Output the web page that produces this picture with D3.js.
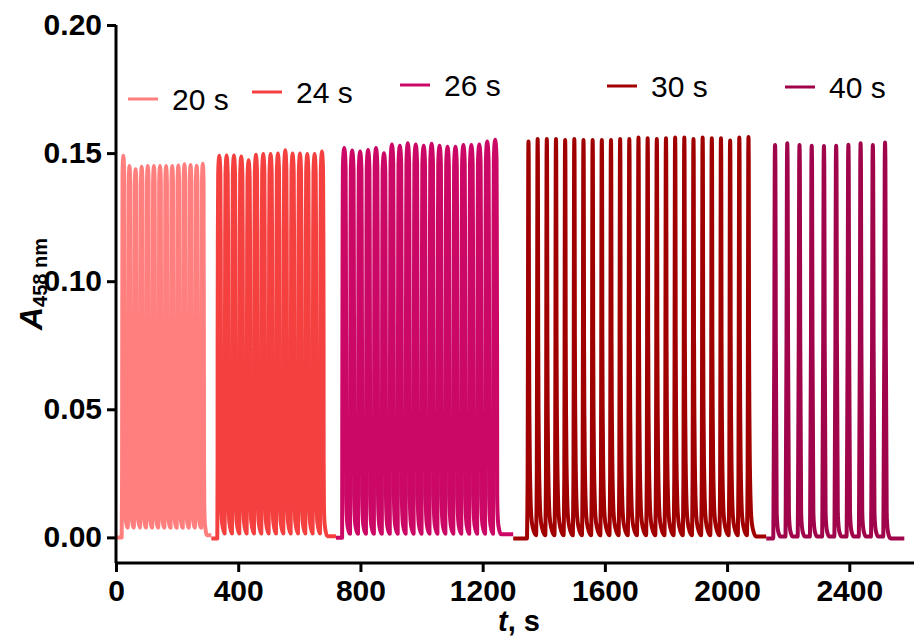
<!DOCTYPE html>
<html><head><meta charset="utf-8">
<script src="https://cdn.jsdelivr.net/npm/d3@7"></script>
<style>body{margin:0;background:#fff}svg{display:block}</style>
</head><body>
<svg id="chart" width="914" height="637"></svg>
<script>
// ---------------- data ----------------
const seriesLabels = ["20 s", "24 s", "26 s", "30 s", "40 s"];
const seriesColors = ["#FF7F7F", "#F54040", "#CC0866", "#A00000", "#A0054C"];
const periods = [20, 24, 26, 30, 40];              // s
const firstPeakTimes = [24, 338, 747, 1350, 2157]; // s
const traceStart = [0, 312, 720, 1300, 2128];      // s
const traceEnd = [312, 720, 1300, 2128, 2580];     // s
const preBaseline = [0.0, -0.0004, -0.0001, -0.0004, -0.0004];
const troughs = [0.0038, 0.0015, 0.0014, 0.0008, 0.0003];
const postBaseline = [0.0008, 0.0004, 0.0012, 0.0003, -0.0004];

const peaks20 = [0.149, 0.145, 0.1437, 0.1447, 0.145, 0.145, 0.145, 0.145, 0.145, 0.1452, 0.1456, 0.1454, 0.1451, 0.1458];
const peaks24 = [0.149, 0.1491, 0.1491, 0.1487, 0.1472, 0.1494, 0.1496, 0.1496, 0.1498, 0.1511, 0.1498, 0.1498, 0.1496, 0.1496, 0.1506];
const peaks26 = [0.152, 0.151, 0.1506, 0.1512, 0.152, 0.1499, 0.1534, 0.1529, 0.1538, 0.1534, 0.1529, 0.1536, 0.1529, 0.1525, 0.1525, 0.1532, 0.1532, 0.1534, 0.1545, 0.1552];
const peaks30 = [0.1545, 0.1555, 0.1555, 0.1555, 0.1551, 0.1555, 0.1551, 0.1551, 0.1551, 0.1551, 0.1555, 0.1555, 0.1561, 0.1558, 0.1555, 0.1558, 0.1561, 0.1561, 0.1555, 0.1561, 0.1558, 0.1558, 0.1549, 0.1561, 0.1563];
const peaks40 = [0.1532, 0.1538, 0.1532, 0.1529, 0.1528, 0.1529, 0.1533, 0.1538, 0.1532, 0.1541];
const peakSets = [peaks20, peaks24, peaks26, peaks30, peaks40];

// cycle shapes: [seconds from peak, fraction of the rise above the trough]
const rise20 = [[-5.5, 0], [-4.6, 0.08], [-4, 0.2], [-3.6, 0.5], [-3, 0.8], [-2.6, 0.95], [-1.2, 0.99], [0, 1]];
const fall20 = [[0, 1], [1.2, 0.99], [2.6, 0.95], [2.9, 0.8], [3.6, 0.5], [4, 0.2], [5, 0.08], [7, 0.03], [14.5, 0]];
const rise24 = [[-6.5, 0], [-6, 0.08], [-5.5, 0.2], [-5.4, 0.5], [-4.6, 0.8], [-3.6, 0.95], [-1.5, 0.99], [0, 1]];
const fall24 = [[0, 1], [1.5, 0.99], [3.6, 0.95], [4.6, 0.8], [5.4, 0.5], [5.6, 0.2], [6.5, 0.08], [9, 0.03], [17.5, 0]];
const rise26 = [[-7, 0], [-6.7, 0.1], [-6.45, 0.3], [-6.05, 0.5], [-5.25, 0.8], [-4.4, 0.95], [-2, 0.99], [0, 1]];
const fall26 = [[0, 1], [2, 0.99], [4.4, 0.95], [5.25, 0.8], [6.05, 0.5], [6.45, 0.3], [6.6, 0.1], [8, 0.05], [11, 0.02], [19, 0]];
const rise30 = [[-5, 0], [-4, 0.05], [-2.8, 0.15], [-1.8, 0.5], [-0.8, 0.95], [0, 1]];
const fall30 = [[0, 1], [0.8, 0.95], [1.8, 0.5], [3, 0.3], [4.5, 0.18], [6.5, 0.1], [9, 0.05], [14, 0.02], [25, 0]];
const rise40 = [[-6, 0], [-5.2, 0.06], [-2.5, 0.5], [-1.1, 0.95], [0, 1]];
const fall40 = [[0, 1], [1.1, 0.95], [2.5, 0.5], [5.4, 0.06], [8, 0.025], [12, 0.008], [18, 0], [34, 0]];
const riseShapes = [rise20, rise24, rise26, rise30, rise40];
const fallShapes = [fall20, fall24, fall26, fall30, fall40];

const xTicks = [0, 400, 800, 1200, 1600, 2000, 2400];
const yTicks = [0.00, 0.05, 0.10, 0.15, 0.20];

// ---------------- layout ----------------
const svg = d3.select("#chart");
const X0 = 116, X1 = 915, YTOP = 25, YBOT = 563;
const x = d3.scaleLinear().domain([0, 2615]).range([X0, X1]);
const y = d3.scaleLinear().domain([-0.01, 0.20]).range([YBOT, YTOP]);
const FONT = "'Liberation Sans', Arial, Helvetica, sans-serif";

function buildTrace(i) {
  const pts = [[traceStart[i], preBaseline[i]]];
  const P = periods[i], rise = riseShapes[i], fall = fallShapes[i];
  const lead = -rise[0][0];
  const peaks = peakSets[i];
  peaks.forEach((pk, k) => {
    const tp = firstPeakTimes[i] + k * P;
    const base = k === 0 ? preBaseline[i] : troughs[i];
    rise.forEach(([dt, f]) => pts.push([tp + dt, base + (pk - base) * f]));
    const last = k === peaks.length - 1;
    const floor = last ? postBaseline[i] : troughs[i];
    fall.forEach(([dt, f]) => {
      if (dt === 0) return;
      if (!last && dt >= P - lead) return;
      pts.push([tp + dt, floor + (pk - floor) * f]);
    });
  });
  pts.push([traceEnd[i], postBaseline[i]]);
  return pts;
}

const line = d3.line().x(d => x(d[0])).y(d => y(d[1])).curve(d3.curveMonotoneX);
const gData = svg.append("g");
seriesLabels.forEach((lab, i) => {
  gData.append("path")
    .attr("d", line(buildTrace(i)))
    .attr("fill", "none")
    .attr("stroke", seriesColors[i])
    .attr("stroke-width", 4)
    .attr("stroke-linejoin", "round");
});

// axes
const xAxis = d3.axisBottom(x).tickValues(xTicks).tickFormat(d3.format("d")).tickSizeOuter(0).tickSize(9).tickPadding(8);
const yAxis = d3.axisLeft(y).tickValues(yTicks).tickFormat(d3.format(".2f")).tickSizeOuter(0).tickSize(9).tickPadding(5);
const gx = svg.append("g").attr("transform", `translate(0,${YBOT})`).call(xAxis);
const gy = svg.append("g").attr("transform", `translate(${X0},0)`).call(yAxis);
gy.select(".domain").attr("d", `M0,${YBOT}V${YTOP}`);
gx.select(".domain").attr("d", `M${X0},0H${X1}`);
[gx, gy].forEach(g => {
  g.selectAll(".domain, .tick line").attr("stroke", "#000").attr("stroke-width", 3);
  g.selectAll(".tick text").attr("fill", "#000").style("font-family", FONT)
    .style("font-weight", "bold").style("font-size", "30px");
});

// axis titles
svg.append("text").attr("x", 519).attr("y", 631).attr("text-anchor", "middle")
  .style("font-family", FONT).style("font-weight", "bold").style("font-size", "29px")
  .call(t => {
    t.append("tspan").style("font-style", "italic").text("t");
    t.append("tspan").text(", s");
  });
svg.append("text").attr("transform", "translate(42,284) rotate(-90)").attr("text-anchor", "middle")
  .style("font-family", FONT).style("font-weight", "bold")
  .call(t => {
    t.append("tspan").style("font-style", "italic").style("font-size", "32px").text("A");
    t.append("tspan").attr("dy", 5).style("font-size", "20px").text("458 nm");
  });

// legend
const legendPos = [[128, 99], [252, 92], [400, 85], [607, 86], [785, 87]];
seriesLabels.forEach((lab, i) => {
  const [lx, ly] = legendPos[i];
  svg.append("line").attr("x1", lx).attr("x2", lx + 30).attr("y1", ly).attr("y2", ly)
    .attr("stroke", seriesColors[i]).attr("stroke-width", 3);
  svg.append("text").attr("x", lx + 44).attr("y", ly + 11)
    .style("font-family", FONT).style("font-size", "30px").attr("fill", "#000").text(lab);
});
</script>
</body></html>
